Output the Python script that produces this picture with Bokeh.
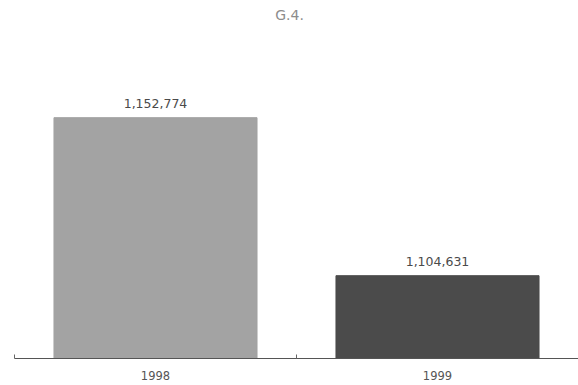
from bokeh.plotting import figure
from bokeh.models import ColumnDataSource, FixedTicker, Range1d, Label
from bokeh.core.properties import value
from bokeh.embed import file_html
from bokeh.resources import INLINE

years = ["1998", "1999"]
values = [1152774, 1104631]
labels = ["1,152,774", "1,104,631"]
colors = ["#a3a3a3", "#4b4b4b"]
title_text = "G.4."

pos = [i + 0.5 for i in range(len(years))]
src = ColumnDataSource(dict(x=pos, top=values, label=labels, color=colors))

y_start = 1079400
y_end = 1188480

p = figure(width=578, height=385, output_backend="svg", toolbar_location=None,
           title_location=None,
           x_range=Range1d(0, len(years)), y_range=Range1d(y_start, y_end),
           min_border_left=14, min_border_right=0, min_border_bottom=27, min_border_top=0)

title = Label(x=275, y=344, x_units="screen", y_units="screen", text=title_text,
              text_align="center", text_baseline="middle", text_font="DejaVu Sans",
              text_font_size="14px", text_color="#8c8c8c")
p.add_layout(title)

p.vbar(x="x", top="top", bottom=y_start, width=0.72, fill_color="color", line_color="color", source=src)
p.text(x="x", y="top", text="label", source=src, text_align="center", text_baseline="bottom",
       y_offset=-10, text_font=value("DejaVu Sans"), text_font_size="12.5px", text_color="#4a4a4a")

p.yaxis.visible = False
p.xgrid.visible = False
p.ygrid.visible = False
p.outline_line_color = None
p.background_fill_color = "white"
p.border_fill_color = "white"

ax = p.xaxis[0]
ax.ticker = FixedTicker(ticks=pos, minor_ticks=list(range(len(years) + 1)))
ax.major_label_overrides = {p_: y for p_, y in zip(pos, years)}
ax.major_tick_in = 0
ax.major_tick_out = 0
ax.minor_tick_in = 4
ax.minor_tick_out = 0
ax.minor_tick_line_color = "#666666"
ax.axis_line_color = "#555555"
ax.axis_line_width = 1
ax.major_label_text_font = "DejaVu Sans"
ax.major_label_text_font_size = "11.5px"
ax.major_label_text_color = "#555555"
ax.major_label_standoff = 12

open("out.html", "w").write(file_html(p, INLINE))
